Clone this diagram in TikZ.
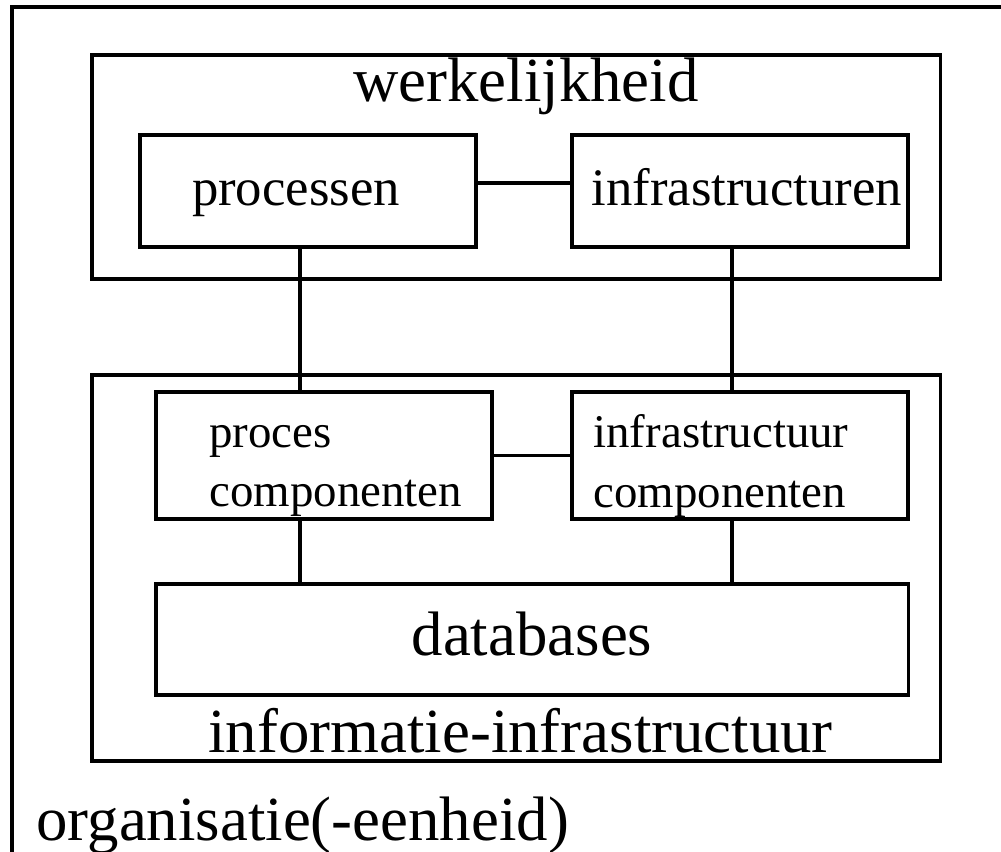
\documentclass[tikz,border=0pt]{standalone}
\usepackage{fontspec}
\setmainfont{Liberation Serif}
\tikzset{
    box/.style={draw, line width=2.6pt, inner sep=0pt, outer sep=0pt, minimum width=10.08cm},
    big/.style={font=\fontsize{53.6}{60}\selectfont, inner sep=0pt, anchor=base},
    mid/.style={font=\fontsize{45}{50}\selectfont, inner sep=0pt, anchor=base},
    small/.style={font=\fontsize{40}{45}\selectfont, inner sep=0pt, anchor=base west}
}
\begin{document}
\begin{tikzpicture}[x=0.03cm, y=-0.03cm, line width=2.6pt]
    \useasboundingbox (0, 0) rectangle (1001, 852);
    \draw (12, 870) -- (12, 7) -- (1020, 7);
    \node[box, minimum width=25.44cm, minimum height=6.72cm] (werk) at (516, 167) {};
    \node[box, minimum height=3.36cm] (proc) at (308, 191) {};
    \node[box, minimum height=3.36cm] (infra) at (740, 191) {};
    \node[box, minimum width=25.44cm, minimum height=11.58cm] (info) at (516, 568) {};
    \node[box, minimum height=3.81cm] (pcomp) at (324, 455.5) {};
    \node[box, minimum height=3.81cm] (icomp) at (740, 455.5) {};
    \node[box, minimum width=22.56cm, minimum height=3.33cm] (db) at (532, 639.5) {};
    \coordinate (lx) at (300, 0);
    \coordinate (rx) at (732, 0);
    \node[big] (werktxt) at (526, 102) {werkelijkheid};
    \node[mid] (proctxt) at (296, 206) {processen};
    \node[mid, anchor=base west] (infratxt) at (590, 206) {infrastructuren};
    \node[small] (pcomptxt) at (208, 447) {proces};
    \node[small] (pcomptxt2) at (208, 506) {componenten};
    \node[small] (icomptxt) at (592, 448) {infrastructuur};
    \node[small] (icomptxt2) at (592, 507) {componenten};
    \node[big] (dbtxt) at (532, 655) {databases};
    \node[big, anchor=base west] (infotxt) at (207, 752) {informatie-infrastructuur};
    \node[big, anchor=base west] (orgtxt) at (35, 840) {organisatie(-eenheid)};
    \draw (proc.east |- 0, 183) -- (infra.west |- 0, 183);
    \draw (pcomp.east) -- (icomp.west);
    \draw (proc.south -| lx) -- (pcomp.north -| lx);
    \draw (infra.south -| rx) -- (icomp.north -| rx);
    \draw (pcomp.south -| lx) -- (db.north -| lx);
    \draw (icomp.south -| rx) -- (db.north -| rx);
\end{tikzpicture}
\end{document}
